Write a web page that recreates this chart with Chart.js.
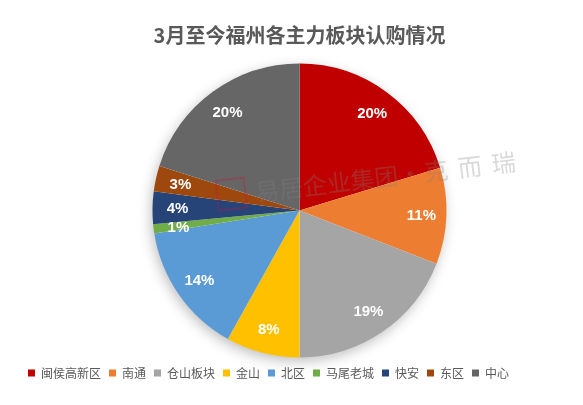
<!DOCTYPE html>
<html>
<head>
<meta charset="utf-8">
<script src="https://cdn.jsdelivr.net/npm/chart.js@4.4.1/dist/chart.umd.min.js"></script>
<style>
html,body{margin:0;padding:0;background:#fff;}
#wrap{width:583px;height:405px;position:relative;}
</style>
</head>
<body>
<div id="wrap"><canvas id="c" width="583" height="405"></canvas></div>
<script>
const titleText = '3月至今福州各主力板块认购情况';
const categories = ['闽侯高新区', '南通', '仓山板块', '金山', '北区', '马尾老城', '快安', '东区', '中心'];
const shares = [20.3, 10.6, 19.1, 8.1, 14.4, 1.0, 3.6, 2.8, 20.1];
const sliceColors = ['#C00000', '#ED7D31', '#A5A5A5', '#FFC000', '#5B9BD5', '#70AD47', '#264478', '#9E480E', '#666666'];
const watermarkMain = '易居企业集团·';
const watermarkTail = ['克', '而', '瑞'];

const CJK = '"Noto Sans CJK SC", "Noto Sans", sans-serif';

const shadowPlugin = {
  id: 'pieShadow',
  beforeDatasetsDraw(chart) {
    const arc = chart.getDatasetMeta(0).data[0];
    if (!arc) return;
    const ctx = chart.ctx;
    ctx.save();
    ctx.shadowColor = 'rgba(0,0,0,0.28)';
    ctx.shadowBlur = 14;
    ctx.shadowOffsetX = -2;
    ctx.shadowOffsetY = 4;
    ctx.fillStyle = '#ffffff';
    ctx.beginPath();
    ctx.arc(arc.x, arc.y, arc.outerRadius - 1, 0, Math.PI * 2);
    ctx.fill();
    ctx.restore();
  }
};

const labelPlugin = {
  id: 'pctLabels',
  afterDatasetsDraw(chart) {
    const ctx = chart.ctx;
    const meta = chart.getDatasetMeta(0);
    const pos = [];
    meta.data.forEach((arc, i) => {
      const a = (arc.startAngle + arc.endAngle) / 2;
      const r = arc.outerRadius * 0.83;
      pos.push({x: arc.x + Math.cos(a) * r, y: arc.y + Math.sin(a) * r, t: Math.round(shares[i]) + '%', left: Math.cos(a) < 0});
    });
    for (let i = pos.length - 2; i >= 0; i--) {
      const a = pos[i], b = pos[i + 1];
      if (a.left && b.left && Math.abs(a.x - b.x) < 30 && a.y - b.y < 19 && a.y > b.y - 5) {
        a.y = b.y + 19;
      }
    }
    ctx.save();
    ctx.fillStyle = '#ffffff';
    ctx.font = 'bold 15px "Liberation Sans", Arial, sans-serif';
    ctx.textAlign = 'center';
    ctx.textBaseline = 'middle';
    pos.forEach(p => ctx.fillText(p.t, p.x, p.y + 1));
    ctx.restore();
  }
};

const watermarkPlugin = {
  id: 'watermark',
  afterDatasetsDraw(chart) {
    const ctx = chart.ctx;
    ctx.save();
    ctx.translate(258, 198);
    ctx.rotate(-6.8 * Math.PI / 180);
    ctx.globalAlpha = 0.3;
    ctx.strokeStyle = '#d01040';
    ctx.lineWidth = 2;
    ctx.strokeRect(-40, -22, 28, 30);
    ctx.fillStyle = '#808080';
    ctx.font = '24px ' + CJK;
    ctx.textBaseline = 'middle';
    ctx.fillText(watermarkMain, -2, -6);
    let x = -2 + ctx.measureText(watermarkMain).width + 2;
    watermarkTail.forEach(ch => {
      ctx.fillText(ch, x, -6);
      x += 34;
    });
    ctx.restore();
  }
};

new Chart(document.getElementById('c'), {
  type: 'pie',
  data: {
    labels: categories,
    datasets: [{
      data: shares,
      backgroundColor: sliceColors,
      borderWidth: 0,
      radius: '99%'
    }]
  },
  plugins: [shadowPlugin, labelPlugin, watermarkPlugin],
  options: {
    responsive: false,
    animation: false,
    events: [],
    layout: {padding: {left: 20, right: 4, top: 0, bottom: 16}},
    plugins: {
      tooltip: {enabled: false},
      title: {
        display: true,
        text: titleText,
        color: '#595959',
        font: {family: CJK, size: 20, weight: 'bold'},
        padding: {top: 23, bottom: 15}
      },
      legend: {
        position: 'bottom',
        align: 'start',
        labels: {
          boxWidth: 7,
          boxHeight: 7,
          padding: 8,
          color: '#595959',
          font: {family: CJK, size: 12}
        }
      }
    }
  }
});
</script>
</body>
</html>
